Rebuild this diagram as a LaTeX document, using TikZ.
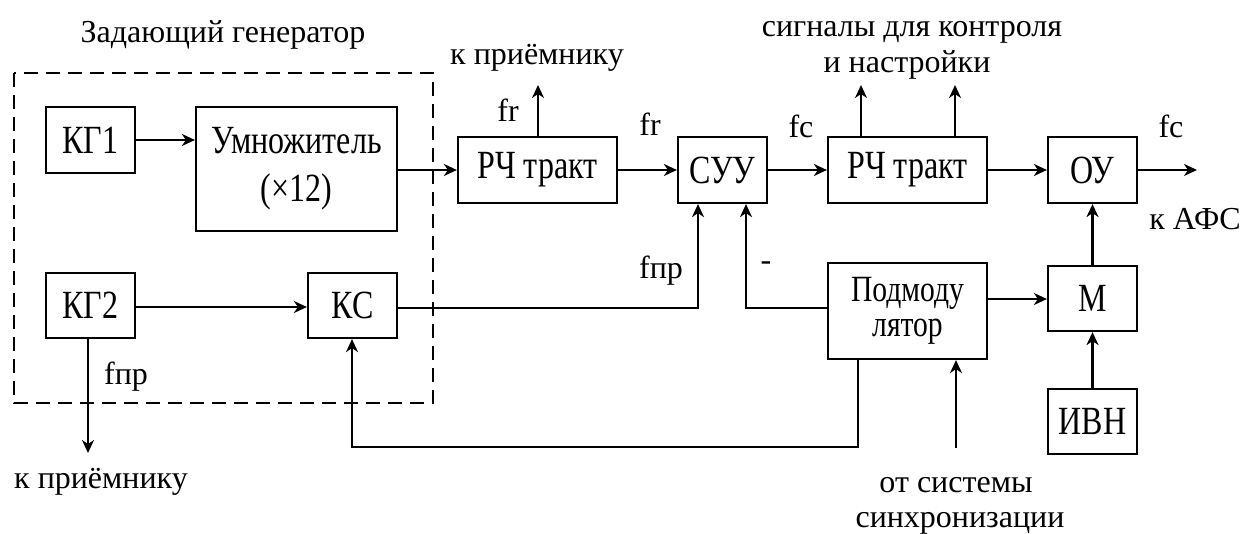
\documentclass[tikz,border=0pt]{standalone}
\usepackage{fontspec}
\setmainfont{Liberation Serif}
\newfontfamily\boxfont[FakeStretch=0.8]{Liberation Serif}
\usetikzlibrary{arrows.meta}
\tikzset{
  blk/.style={draw, line width=2.2pt, inner sep=0pt, align=center,
    font=\boxfont\fontsize{40}{48}\selectfont},
  lbl/.style={inner sep=0pt, anchor=base, font=\fontsize{32}{36}\selectfont},
  arr/.style={line width=2.2pt, -{Stealth[length=13pt,width=12pt,inset=4pt]}},
  grp/.style={line width=2.2pt, dash pattern=on 14pt off 8pt}
}
\begin{document}
\begin{tikzpicture}[x=1pt,y=-1pt]
\useasboundingbox (0,0) rectangle (1245,534);
\fill[white] (0,0) rectangle (1245,534);

% dashed group
\draw[grp] (14,73) rectangle (433,403);
\node[lbl] (title) at (223,43) {Задающий генератор};

% blocks
\node[blk, minimum width=89pt, minimum height=66pt] (kg1) at (90.5,140) {КГ1};
\node[blk, minimum width=201pt, minimum height=124pt] (umn) at (296.5,169) {Умножитель\\(×12)};
\node[blk, minimum width=159pt, minimum height=66pt] (rch1) at (537.5,170) {РЧ тракт};
\node[blk, minimum width=89pt, minimum height=66pt] (suu) at (722.5,170) {СУУ};
\node[blk, minimum width=159pt, minimum height=66pt] (rch2) at (907.5,170) {РЧ тракт};
\node[blk, minimum width=89pt, minimum height=66pt] (ou) at (1092.5,170) {ОУ};
\node[blk, minimum width=89pt, minimum height=65pt] (kg2) at (90.5,305.5) {КГ2};
\node[blk, minimum width=89pt, minimum height=65pt] (ks) at (352.5,305.5) {КС};
\node[blk, minimum width=159pt, minimum height=96pt, font=\boxfont\fontsize{37}{35}\selectfont] (pod) at (907.5,311) {Подмоду\\лятор};
\node[blk, minimum width=89pt, minimum height=65pt] (m) at (1092.5,298.5) {М};
\node[blk, minimum width=89pt, minimum height=65pt] (ivn) at (1092.5,421.5) {ИВН};

% free ends
\coordinate (r1up) at (538,85);
\coordinate (r2upa) at (861,85);
\coordinate (r2upb) at (955,85);
\coordinate (out) at (1197,170);
\coordinate (kg2down) at (88,453);
\coordinate (sync) at (956,448);
\coordinate (ksbend) at (698,308);
\coordinate (podbend) at (746,308);
\coordinate (fb1) at (858,447);
\coordinate (fb2) at (352,447);

% connectors
\draw[arr] (kg1.east) -- (kg1.east -| umn.west);
\draw[arr] (umn.east |- rch1) -- (rch1.west);
\draw[arr] (rch1.east) -- (suu.west);
\draw[arr] (suu.east) -- (rch2.west);
\draw[arr] (rch2.east) -- (ou.west);
\draw[arr] (ou.east) -- (out);
\draw[arr] (rch1.north -| r1up) -- (r1up);
\draw[arr] (rch2.north -| r2upa) -- (r2upa);
\draw[arr] (rch2.north -| r2upb) -- (r2upb);
\draw[arr] (kg2.east |- 0,307) -- (ks.west |- 0,307);
\draw[arr] (kg2.south -| kg2down) -- (kg2down);
\draw[arr] (ks.east |- ksbend) -- (ksbend) -- (suu.south -| ksbend);
\draw[arr] (pod.west |- podbend) -- (podbend) -- (suu.south -| podbend);
\draw[arr] (pod.east |- 0,299) -- (m.west |- 0,299);
\draw[arr] (sync) -- (pod.south -| sync);
\draw[arr] (pod.south -| fb1) -- (fb1) -- (fb2) -- (ks.south -| fb2);
\draw[arr] (ivn.north) -- (m.south);
\draw[arr] (m.north) -- (ou.south);

% labels
\node[lbl] (lrecv1) at (537,65) {к приёмнику};
\node[lbl] (lfr1) at (508,122) {fr};
\node[lbl] (lfr2) at (650,136) {fr};
\node[lbl] (lfc1) at (801,138) {fc};
\node[lbl] (lsig1) at (912,37) {сигналы для контроля};
\node[lbl] (lsig2) at (907,73) {и настройки};
\node[lbl] (lfc2) at (1171,138) {fc};
\node[lbl] (lafs) at (1195,230) {к АФС};
\node[lbl] (lfpr1) at (661,279) {fпр};
\node[lbl, anchor=center] (lminus) at (766,266) {-};
\node[lbl] (lfpr2) at (126,385) {fпр};
\node[lbl] (lrecv2) at (101,488) {к приёмнику};
\node[lbl] (lsync1) at (956,492) {от системы};
\node[lbl] (lsync2) at (960,527) {синхронизации};
\end{tikzpicture}
\end{document}
